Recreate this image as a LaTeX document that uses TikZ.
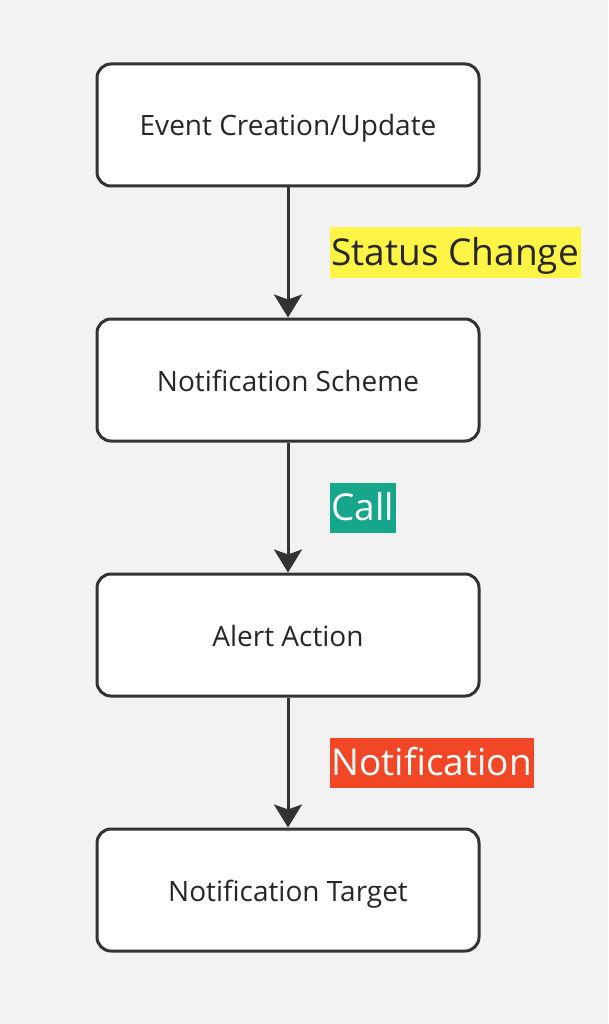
\documentclass[tikz,border=0pt]{standalone}
\usepackage{fontspec}
\setmainfont{Open Sans}
\usetikzlibrary{arrows.meta, positioning}
\definecolor{bgcol}{HTML}{F2F2F2}
\definecolor{linecol}{HTML}{333333}
\definecolor{hlyellow}{HTML}{FEF445}
\definecolor{hlgreen}{HTML}{16A68B}
\definecolor{hlred}{HTML}{F24726}

\begin{document}
\begin{tikzpicture}[x=1pt, y=-1pt,
  node distance=130pt,
  box/.style={draw=linecol, line width=3pt, rounded corners=14pt, fill=white,
              minimum width=382pt, minimum height=122pt, align=center,
              text height=24pt, text depth=2pt,
              font=\fontsize{28}{33}\selectfont, text=black!85},
  arr/.style={-{Stealth[length=23pt, width=28pt, inset=5pt]}, line width=3pt, draw=linecol},
  lbl/.style={font=\fontsize{37}{42}\selectfont, minimum height=50pt,
              text height=30pt, text depth=4pt,
              inner xsep=2pt, inner ysep=0pt}]
  \fill[bgcol] (0,0) rectangle (608,1024);
  \useasboundingbox (0,0) rectangle (608,1024);
  \node[box] (event) at (288,125) {Event Creation/Update};
  \node[box, below=of event] (scheme) {Notification Scheme};
  \node[box, below=of scheme] (alert) {Alert Action};
  \node[box, below=of alert] (target) {Notification Target};
  \draw[arr] (event) -- node[lbl, right=40pt, fill=hlyellow, text=black!85]
        {Status Change} (scheme);
  \draw[arr] (scheme) -- node[lbl, right=40pt, fill=hlgreen, text=white]
        {Call} (alert);
  \draw[arr] (alert) -- node[lbl, right=40pt, fill=hlred, text=white]
        {Notification} (target);
\end{tikzpicture}
\end{document}
